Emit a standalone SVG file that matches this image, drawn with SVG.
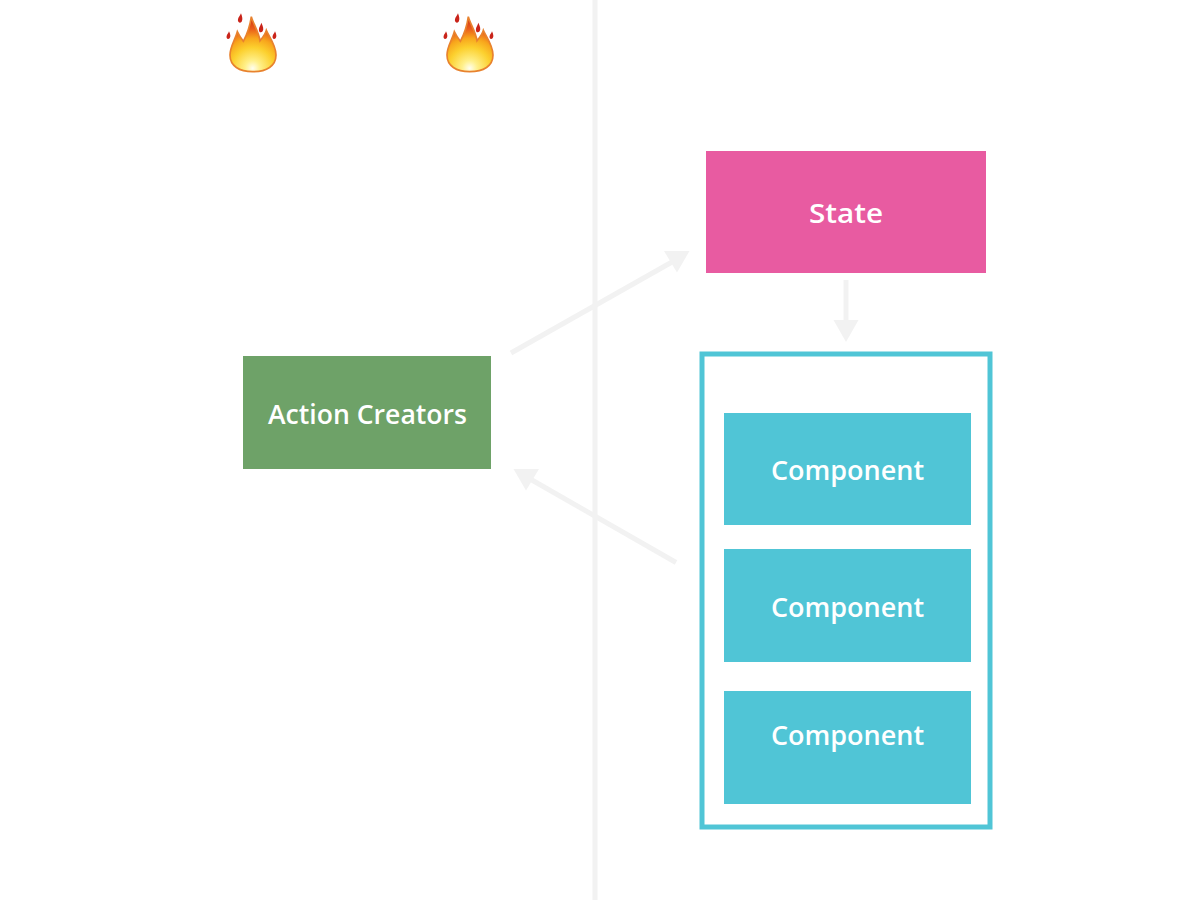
<svg xmlns="http://www.w3.org/2000/svg" width="1200" height="900" viewBox="0 0 1200 900">
<style>
.label{font-family:"Open Sans","Noto Sans","Liberation Sans",sans-serif;font-weight:600;font-size:27px;fill:#fff;text-anchor:middle}
.wire{stroke:#f2f2f2;stroke-width:5;fill:none}
.head{fill:#f2f2f2}
.comp{fill:#50c5d6}
.drop{fill:#c9241a}
</style>
<defs>
<radialGradient id="fire" gradientUnits="userSpaceOnUse" cx="128" cy="205" r="165">
<stop offset="0" stop-color="#fffef0"/>
<stop offset=".14" stop-color="#fff08a"/>
<stop offset=".38" stop-color="#fcd02e"/>
<stop offset=".55" stop-color="#f8a61c"/>
<stop offset=".72" stop-color="#ea5c1a"/>
<stop offset="1" stop-color="#c51f12"/>
</radialGradient>
<g id="flame">
<path fill="url(#fire)" stroke="#e8822e" stroke-width="5" d="M124 50C130 72 146 95 150 122C158 112 166 103 169 91C176 108 198 135 198 165C198 198 170 215 128 215C88 215 60 198 60 165C60 140 76 118 82 95C88 108 94 116 100 124C112 102 120 78 124 50Z"/>
<path class="drop" d="M93 40C97 51 99 58 95 65C89 72 82 66 84 58C85 52 90 48 93 40Z"/>
<path class="drop" d="M154 68C159 79 162 87 158 94C152 101 145 95 147 86C148 80 152 76 154 68Z"/>
<path class="drop" d="M57 94C61 103 63 110 59 115C53 121 48 114 50 108C51 103 55 101 57 94Z"/>
<path class="drop" d="M195 94C199 103 201 110 197 115C191 121 186 114 188 108C189 103 193 101 195 94Z"/>
</g>
</defs>
<rect width="1200" height="900" fill="#fff"/>
<g id="connectors">
<line class="wire" x1="595" y1="0" x2="595" y2="900"/>
<line class="wire" x1="511" y1="353" x2="672" y2="262"/>
<polygon class="head" points="664,251 689.500,251 677,272.500"/>
<line class="wire" x1="676" y1="562.500" x2="531" y2="479.500"/>
<polygon class="head" points="513.500,469 539,469 526,490.500"/>
<line class="wire" x1="846" y1="280" x2="846" y2="322"/>
<polygon class="head" points="833.500,320 858.500,320 846,342"/>
</g>
<g id="flame-1"><use href="#flame" transform="translate(210 0) scale(.3333)"/></g>
<g id="flame-2"><use href="#flame" transform="translate(427 0) scale(.3333)"/></g>
<g id="action-creators">
<rect x="243" y="356" width="248" height="113" fill="#6ea268"/>
<text class="label" x="367.500" y="424" textLength="199" lengthAdjust="spacingAndGlyphs">Action Creators</text>
</g>
<g id="state">
<rect x="706" y="151" width="280" height="122" fill="#e85ba1"/>
<text class="label" x="846" y="223" textLength="74" lengthAdjust="spacingAndGlyphs">State</text>
</g>
<g id="container">
<rect x="702" y="354" width="288" height="473" fill="none" stroke="#50c5d6" stroke-width="5"/>
</g>
<g id="component-1">
<rect class="comp" x="724" y="413" width="247" height="112"/>
<text class="label" x="847.500" y="480">Component</text>
</g>
<g id="component-2">
<rect class="comp" x="724" y="549" width="247" height="113"/>
<text class="label" x="847.500" y="617">Component</text>
</g>
<g id="component-3">
<rect class="comp" x="724" y="691" width="247" height="113"/>
<text class="label" x="847.500" y="745">Component</text>
</g>
</svg>
